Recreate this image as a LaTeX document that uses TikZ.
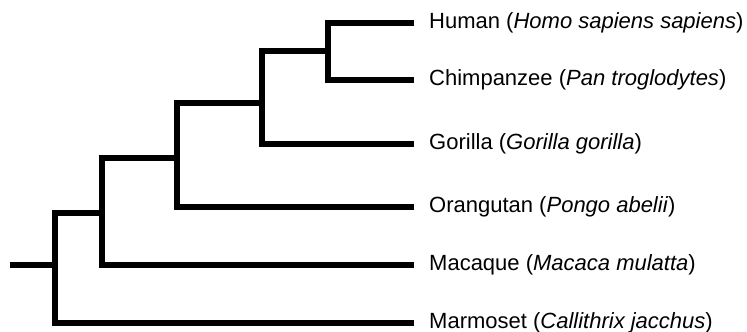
\documentclass[tikz,border=0pt]{standalone}
\usepackage{fontspec}
\setmainfont{Liberation Sans}
\usepackage{tikz}
\usetikzlibrary{calc,positioning}

\tikzset{
  branch/.style={line width=6pt,line join=miter},
  taxon/.style={anchor=west,inner xsep=15pt,inner ysep=0pt,
    font=\fontsize{22}{26}\selectfont}
}

\begin{document}
\begin{tikzpicture}[x=1pt,y=-1pt]
  \useasboundingbox (0,0) rectangle (747,332);

  % internal nodes (split points)
  \coordinate (root) at (10,265);
  \coordinate (a) at (55,265);
  \coordinate (b) at (102,213);
  \coordinate (c) at (177,158);
  \coordinate (d) at (262,103);
  \coordinate (e) at (328,51);

  % leaves
  \foreach \id/\y/\name/\sci in {hum/23/Human/Homo sapiens sapiens,
      chi/80/Chimpanzee/Pan troglodytes,
      gor/143.5/Gorilla/Gorilla gorilla,
      ora/206.5/Orangutan/Pongo abelii,
      mac/265/Macaque/Macaca mulatta,
      mar/322.5/Marmoset/Callithrix jacchus} {
    \node[taxon] (\id) at (414,\y) {\name{} (\textit{\sci})};
  }

  % branches
  \draw[branch] (root) -- (a);
  \draw[branch] (a) |- (b);
  \draw[branch] (a) |- (mar.west);
  \draw[branch] (b) |- (c);
  \draw[branch] (b) |- (mac.west);
  \draw[branch] (c) |- (d);
  \draw[branch] (c) |- (ora.west);
  \draw[branch] (d) |- (e);
  \draw[branch] (d) |- (gor.west);
  \draw[branch] (e) |- (hum.west);
  \draw[branch] (e) |- (chi.west);
\end{tikzpicture}
\end{document}
